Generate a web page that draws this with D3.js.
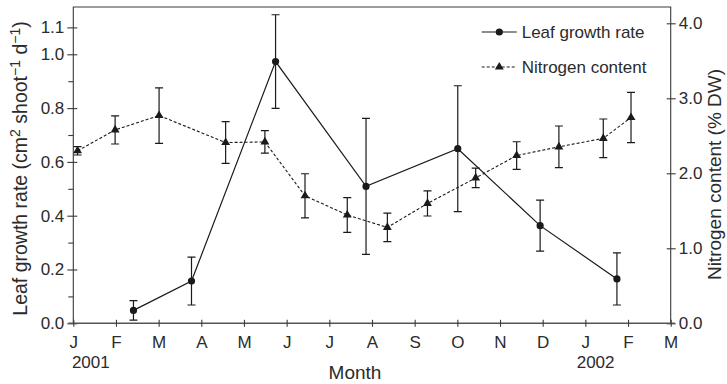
<!DOCTYPE html>
<html>
<head>
<meta charset="utf-8">
<script src="https://cdn.jsdelivr.net/npm/d3@7/dist/d3.min.js"></script>
<style>
  html, body { margin: 0; padding: 0; background: #fff; }
  svg { display: block; font-family: "Liberation Sans", Arial, Helvetica, sans-serif; }
</style>
</head>
<body>
<svg id="chart" width="727" height="384"></svg>
<script>
// Month axis: 0 = January 2001 ... 14 = March 2002
const monthLabels = ["J","F","M","A","M","J","J","A","S","O","N","D","J","F","M"];
const yearLabels = [{ m: 0.41, text: "2001" }, { m: 12.24, text: "2002" }];

// Leaf growth rate (cm2 shoot-1 d-1), mean ± error
const growthMonth = [1.41, 2.77, 4.74, 6.86, 9.01, 10.94, 12.74];
const growthRate  = [0.048, 0.157, 0.973, 0.509, 0.649, 0.363, 0.165];
const growthErr   = [0.036, 0.089, 0.174, 0.253, 0.234, 0.095, 0.097];

// Nitrogen content (% DW), mean ± error
const nitroMonth = [0.10, 0.98, 2.01, 3.57, 4.49, 5.43, 6.42, 7.36, 8.30, 9.43, 10.39, 11.38, 12.42, 13.07];
const nitrogen   = [2.30, 2.578, 2.77, 2.41, 2.418, 1.70, 1.444, 1.278, 1.598, 1.938, 2.237, 2.353, 2.466, 2.744];
const nitroErr   = [0.056, 0.187, 0.37, 0.278, 0.15, 0.294, 0.231, 0.19, 0.167, 0.13, 0.184, 0.278, 0.258, 0.336];

const leftMajor = [0, 0.2, 0.4, 0.6, 0.8, 1.0, 1.1];
const leftMinor = [0.1, 0.3, 0.5, 0.7, 0.9];
const rightTicks = [0, 1, 2, 3, 4];

const legendItems = ["Leaf growth rate", "Nitrogen content"];

const svg = d3.select("#chart");
const L = 73.3, R = 670.7, T = 7, B = 323.3;
const ink = "#1a1a1a", axisCol = "#3a3a3a", textCol = "#2b2b2b";

const x  = d3.scaleLinear().domain([0, 14]).range([L, R]);
const yL = d3.scaleLinear().domain([0, 1.1]).range([B, B - 1.1 * 269]);
const yR = d3.scaleLinear().domain([0, 4]).range([B, 23.3]);

// frame (top and sides)
svg.append("path")
  .attr("d", `M${L},${B}V${T}H${R}V${B}`)
  .attr("fill", "none").attr("stroke", axisCol).attr("stroke-width", 1.1);

function styleAxis(g) {
  g.select(".domain").remove();
  g.selectAll(".tick line").attr("stroke", axisCol).attr("stroke-width", 1.1);
  g.selectAll(".tick text").attr("fill", textCol).style("font-size", "17px");
}

// left axis
const gL = svg.append("g").attr("transform", `translate(${L},0)`)
  .call(d3.axisLeft(yL).tickValues(leftMajor).tickSize(6).tickPadding(3)
        .tickFormat(d3.format(".1f")));
styleAxis(gL);
gL.selectAll(".tick line").attr("x2", -6).attr("x1", 4);
svg.append("g").attr("transform", `translate(${L},0)`)
  .call(d3.axisLeft(yL).tickValues(leftMinor).tickSize(5).tickFormat(""))
  .call(g => { g.select(".domain").remove(); g.selectAll(".tick line").attr("stroke", axisCol).attr("stroke-width", 1.1); });

// right axis
const gR = svg.append("g").attr("transform", `translate(${R},0)`)
  .call(d3.axisRight(yR).tickValues(rightTicks).tickSize(5).tickPadding(3)
        .tickFormat(d3.format(".1f")));
styleAxis(gR);
gR.selectAll(".tick line").attr("x1", -4).attr("x2", 5);

// bottom axis
svg.append("line").attr("x1", L - 5).attr("x2", R + 4).attr("y1", B).attr("y2", B)
  .attr("stroke", "#555").attr("stroke-width", 1.6);
const gB = svg.append("g").attr("transform", `translate(0,${B})`)
  .call(d3.axisBottom(x).tickValues(d3.range(15)).tickSize(3.5).tickPadding(9)
        .tickFormat((d, i) => monthLabels[i]));
styleAxis(gB);
gB.selectAll(".tick line").attr("y1", -3.5).attr("y2", 3.5);

svg.selectAll(".year").data(yearLabels).join("text")
  .attr("x", d => x(d.m)).attr("y", 368)
  .attr("text-anchor", "middle").attr("fill", textCol).style("font-size", "17px")
  .text(d => d.text);

// axis titles
svg.append("text").attr("x", 355).attr("y", 379).attr("text-anchor", "middle")
  .attr("fill", textCol).style("font-size", "19px").text("Month");

const lt = svg.append("text")
  .attr("transform", `translate(27,168.5) rotate(-90)`)
  .attr("text-anchor", "middle").attr("fill", textCol).style("font-size", "19.5px");
lt.append("tspan").text("Leaf growth rate (cm");
lt.append("tspan").attr("dy", -7).style("font-size", "14px").text("2");
lt.append("tspan").attr("dy", 7).text(" shoot");
lt.append("tspan").attr("dy", -7).style("font-size", "14px").text("\u22121");
lt.append("tspan").attr("dy", 7).text(" d");
lt.append("tspan").attr("dy", -7).style("font-size", "14px").text("\u22121");
lt.append("tspan").attr("dy", 7).text(")");

svg.append("text")
  .attr("transform", `translate(721,174.5) rotate(-90)`)
  .attr("text-anchor", "middle").attr("fill", textCol).style("font-size", "19px")
  .text("Nitrogen content (% DW)");

// series data
const growthData = growthMonth.map((m, i) => ({ m, v: growthRate[i], e: growthErr[i] }));
const nitroData  = nitroMonth.map((m, i) => ({ m, v: nitrogen[i], e: nitroErr[i] }));

const tri = d3.symbol().type(d3.symbolTriangle).size(34);

function errorBars(data, y) {
  const g = svg.append("g").attr("stroke", ink).attr("stroke-width", 1.2).attr("fill", "none");
  data.forEach(d => {
    const cx = x(d.m), y1 = y(d.v + d.e), y2 = y(d.v - d.e);
    g.append("path").attr("d", `M${cx},${y1}V${y2}M${cx - 4},${y1}H${cx + 4}M${cx - 4},${y2}H${cx + 4}`);
  });
}

// nitrogen: dashed line with triangles
errorBars(nitroData, yR);
svg.append("path").datum(nitroData)
  .attr("d", d3.line().x(d => x(d.m)).y(d => yR(d.v)))
  .attr("fill", "none").attr("stroke", ink).attr("stroke-width", 1.1).attr("stroke-dasharray", "3,2");
svg.selectAll(".tri").data(nitroData).join("path")
  .attr("transform", d => `translate(${x(d.m)},${yR(d.v)})`)
  .attr("d", tri).attr("fill", ink);

// leaf growth: solid line with circles
errorBars(growthData, yL);
svg.append("path").datum(growthData)
  .attr("d", d3.line().x(d => x(d.m)).y(d => yL(d.v)))
  .attr("fill", "none").attr("stroke", ink).attr("stroke-width", 1.2);
svg.selectAll(".dot").data(growthData).join("circle")
  .attr("cx", d => x(d.m)).attr("cy", d => yL(d.v)).attr("r", 3.6).attr("fill", ink);

// legend
const lg = svg.append("g");
legendItems.forEach((name, i) => {
  const ly = 32 + i * 35;
  lg.append("line").attr("x1", 481.7).attr("x2", 516.7).attr("y1", ly).attr("y2", ly)
    .attr("stroke", ink).attr("stroke-width", 1.2)
    .attr("stroke-dasharray", i === 1 ? "3,2" : null);
  if (i === 0) lg.append("circle").attr("cx", 499.3).attr("cy", ly).attr("r", 3.6).attr("fill", ink);
  else lg.append("path").attr("transform", `translate(499.3,${ly})`).attr("d", tri).attr("fill", ink);
  lg.append("text").attr("x", 521.7).attr("y", ly + 6).attr("fill", textCol)
    .style("font-size", "17px").text(name);
});
</script>
</body>
</html>
